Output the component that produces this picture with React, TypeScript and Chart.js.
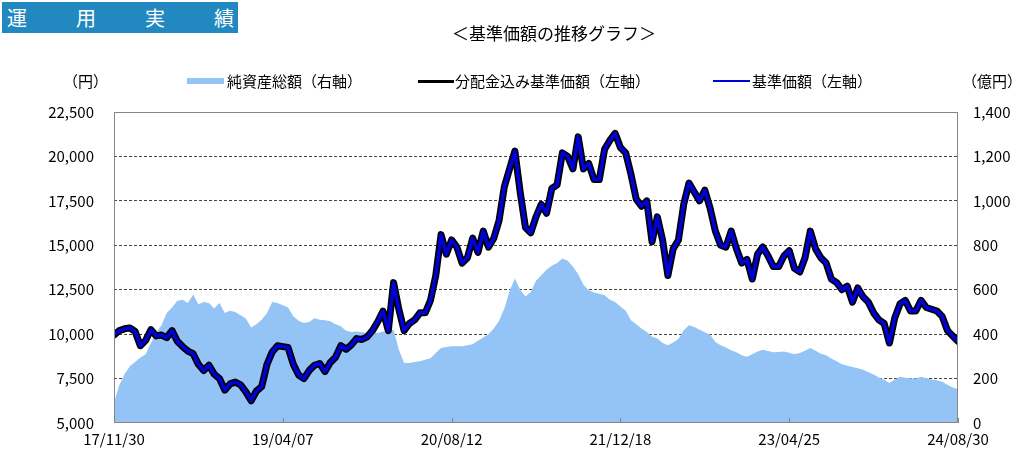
import React, { useEffect, useRef } from "react";
import { Chart, registerables } from "chart.js";

Chart.register(...registerables);

// ---- data ----
const xTickLabels: string[] = ["17/11/30", "19/04/07", "20/08/12", "21/12/18", "23/04/25", "24/08/30"];

// 基準価額（円）
const navValues: number[] = [
  9950, 10200, 10300, 10350, 10150, 9350, 9650, 10250, 9900, 9950,
  9800, 10200, 9600, 9300, 9050, 8900, 8300, 7950, 8250, 7750,
  7500, 6850, 7200, 7300, 7150, 6750, 6250, 6800, 7050, 8300,
  9000, 9350, 9300, 9250, 8300, 7700, 7500, 7950, 8250, 8350,
  7900, 8400, 8700, 9350, 9150, 9400, 9750, 9700, 9850, 10200,
  10700, 11300, 10200, 12900, 11400, 10200, 10600, 10800, 11200, 11200,
  11900, 13300, 15600, 14500, 15300, 14900, 14000, 14300, 15400, 14600,
  15800, 14900, 15400, 16400, 18300, 19300, 20300, 18000, 16000, 15700,
  16600, 17300, 16800, 18200, 18400, 20200, 20000, 19300, 21100, 19300,
  19600, 18700, 18700, 20400, 20900, 21300, 20500, 20200, 19000, 17600,
  17200, 17500, 15200, 16600, 15300, 13300, 14800, 15300, 17300, 18500,
  18000, 17500, 18100, 17100, 15800, 15000, 14900, 15800, 14800, 14000,
  14200, 13100, 14500, 14900, 14400, 13800, 13800, 14400, 14700, 13700,
  13500, 14300, 15800, 14800, 14300, 14000, 13100, 12900, 12500, 12700,
  11800, 12600, 12100, 11800, 11200, 10800, 10600, 9500, 10900, 11700,
  11900, 11300, 11300, 11900, 11500, 11400, 11300, 11000, 10200, 9900,
  9600,
];

// 分配金込み基準価額（円） — overlaps the base price in the picture
const navReinvestedValues: number[] = [
  9950, 10200, 10300, 10350, 10150, 9350, 9650, 10250, 9900, 9950,
  9800, 10200, 9600, 9300, 9050, 8900, 8300, 7950, 8250, 7750,
  7500, 6850, 7200, 7300, 7150, 6750, 6250, 6800, 7050, 8300,
  9000, 9350, 9300, 9250, 8300, 7700, 7500, 7950, 8250, 8350,
  7900, 8400, 8700, 9350, 9150, 9400, 9750, 9700, 9850, 10200,
  10700, 11300, 10200, 12900, 11400, 10200, 10600, 10800, 11200, 11200,
  11900, 13300, 15600, 14500, 15300, 14900, 14000, 14300, 15400, 14600,
  15800, 14900, 15400, 16400, 18300, 19300, 20300, 18000, 16000, 15700,
  16600, 17300, 16800, 18200, 18400, 20200, 20000, 19300, 21100, 19300,
  19600, 18700, 18700, 20400, 20900, 21300, 20500, 20200, 19000, 17600,
  17200, 17500, 15200, 16600, 15300, 13300, 14800, 15300, 17300, 18500,
  18000, 17500, 18100, 17100, 15800, 15000, 14900, 15800, 14800, 14000,
  14200, 13100, 14500, 14900, 14400, 13800, 13800, 14400, 14700, 13700,
  13500, 14300, 15800, 14800, 14300, 14000, 13100, 12900, 12500, 12700,
  11800, 12600, 12100, 11800, 11200, 10800, 10600, 9500, 10900, 11700,
  11900, 11300, 11300, 11900, 11500, 11400, 11300, 11000, 10200, 9900,
  9600,
];

// 純資産総額（億円）
const netAssetValues: number[] = [
  90, 170, 220, 255, 275, 295, 310, 360, 405, 440,
  495, 520, 550, 555, 540, 578, 535, 545, 540, 515,
  540, 495, 505, 500, 485, 470, 430, 445, 465, 495,
  545, 540, 530, 520, 480, 460, 450, 455, 472, 465,
  462, 458, 445, 435, 415, 410, 412, 408, 405, 405,
  405, 412, 410, 420, 330, 270, 270, 275, 278, 285,
  292, 315, 338, 342, 345, 345, 345, 350, 355, 370,
  385, 400, 425, 460, 515, 595, 650, 600, 570, 590,
  640, 665, 690, 708, 720, 740, 730, 705, 670, 622,
  598, 588, 582, 575, 555, 545, 525, 505, 462, 445,
  425, 410, 388, 380, 360, 350, 362, 378, 418, 440,
  432, 420, 408, 398, 365, 350, 340, 328, 318, 305,
  298, 310, 322, 330, 324, 318, 320, 322, 316, 310,
  315, 325, 338, 325, 312, 305, 290, 278, 264, 258,
  252, 246, 240, 228, 218, 205, 195, 180, 195, 208,
  204, 202, 200, 208, 202, 196, 192, 186, 172, 160,
  152,
];

const leftAxisMin = 5000;
const leftAxisMax = 22500;
const leftAxisStep = 2500;
const rightAxisMin = 0;
const rightAxisMax = 1400;
const rightAxisStep = 200;

const FONT = '"Noto Sans CJK JP", "Noto Sans", sans-serif';

const framePlugin = {
  id: "frameAndTicks",
  afterDatasetsDraw(chart: any) {
    const { ctx, chartArea } = chart;
    const { left, top, right, bottom } = chartArea;
    ctx.save();
    ctx.strokeStyle = "#868686";
    ctx.lineWidth = 1;
    ctx.strokeRect(Math.round(left) + 0.5, Math.round(top) + 0.5, Math.round(right - left) - 1, Math.round(bottom - top) - 1);
    const xs = chart.scales.x;
    ctx.beginPath();
    xs.ticks.forEach((t: any) => {
      const px = Math.round(xs.getPixelForValue(t.value)) + 0.5;
      ctx.moveTo(px, bottom);
      ctx.lineTo(px, bottom - 5);
    });
    ctx.stroke();
    ctx.restore();
  },
};

export default function App() {
  const canvasRef = useRef<HTMLCanvasElement | null>(null);

  useEffect(() => {
    const canvas = canvasRef.current;
    if (!canvas) return;
    const indices = navValues.map((_, i) => i);
    const step = (navValues.length - 1) / (xTickLabels.length - 1);
    const chart = new Chart(canvas, {
      type: "line",
      data: {
        labels: indices,
        datasets: [
          {
            label: "基準価額（左軸）",
            data: navValues,
            yAxisID: "y",
            borderColor: "#0000D8",
            borderWidth: 3.5,
            borderJoinStyle: "round",
            borderCapStyle: "round",
            pointRadius: 0,
            fill: false,
            order: 0,
          },
          {
            label: "分配金込み基準価額（左軸）",
            data: navReinvestedValues,
            yAxisID: "y",
            borderColor: "#000000",
            borderWidth: 7,
            borderJoinStyle: "round",
            borderCapStyle: "round",
            pointRadius: 0,
            fill: false,
            order: 1,
          },
          {
            label: "純資産総額（右軸）",
            data: netAssetValues,
            yAxisID: "y1",
            borderColor: "rgba(0,0,0,0)",
            borderWidth: 0,
            backgroundColor: "#93C4F5",
            pointRadius: 0,
            fill: "origin",
            order: 2,
          },
        ],
      },
      options: {
        animation: false,
        responsive: false,
        layout: { padding: { top: 112, left: 0, right: 0, bottom: 0 } },
        plugins: { legend: { display: false }, tooltip: { enabled: false } },
        elements: { line: { tension: 0 }, point: { radius: 0 } },
        scales: {
          x: {
            type: "linear",
            min: 0,
            max: indices.length - 1,
            ticks: {
              stepSize: step,
              autoSkip: false,
              maxRotation: 0,
              color: "#000",
              font: { family: FONT, size: 15 },
              padding: 7,
              callback: (v: any) => xTickLabels[Math.round(Number(v) / step)] ?? "",
            },
            grid: { display: true, drawOnChartArea: false, drawTicks: false },
            border: { display: false },
            afterFit: (s: any) => {
              s.height = 39;
            },
          },
          y: {
            position: "left",
            min: leftAxisMin,
            max: leftAxisMax,
            ticks: {
              stepSize: leftAxisStep,
              color: "#000",
              font: { family: FONT, size: 15 },
              padding: 20,
              callback: (v: any) => Number(v).toLocaleString("en-US"),
            },
            grid: {
              drawTicks: false,
              lineWidth: 1,
              color: (c: any) =>
                c.tick && (c.tick.value === leftAxisMin || c.tick.value === leftAxisMax) ? "rgba(0,0,0,0)" : "#444444",
            },
            border: { display: false, dash: [3, 2] },
            afterFit: (s: any) => {
              s.width = 114;
            },
          },
          y1: {
            position: "right",
            min: rightAxisMin,
            max: rightAxisMax,
            ticks: {
              stepSize: rightAxisStep,
              color: "#000",
              font: { family: FONT, size: 15 },
              padding: 15,
              callback: (v: any) => Number(v).toLocaleString("en-US"),
            },
            grid: { drawOnChartArea: false, drawTicks: false },
            border: { display: false },
            afterFit: (s: any) => {
              s.width = 66;
            },
          },
        },
      },
      plugins: [framePlugin],
    } as any);
    return () => chart.destroy();
  }, []);

  const textStyle: React.CSSProperties = {
    position: "absolute",
    fontFamily: FONT,
    fontSize: 15,
    lineHeight: "20px",
    color: "#000",
    whiteSpace: "nowrap",
  };

  return (
    <div style={{ position: "absolute", left: 0, top: 0, width: 1024, height: 462, background: "#fff", overflow: "hidden" }}>
      <canvas ref={canvasRef} width={1024} height={462} style={{ position: "absolute", left: 0, top: 0, width: 1024, height: 462 }} />
      <div
        style={{
          position: "absolute",
          left: 2,
          top: 2,
          width: 236,
          height: 31,
          background: "#2189BF",
          color: "#fff",
          fontFamily: FONT,
          fontSize: 20,
          lineHeight: "31px",
          display: "flex",
          justifyContent: "space-between",
          padding: "0 4px 0 5px",
          boxSizing: "border-box",
        }}
      >
        <span>運</span>
        <span>用</span>
        <span>実</span>
        <span>績</span>
      </div>
      <div style={{ ...textStyle, fontSize: 17, left: 554, top: 23, transform: "translateX(-50%)" }}>＜基準価額の推移グラフ＞</div>
      <div style={{ ...textStyle, left: 63, top: 71 }}>（円）</div>
      <div style={{ position: "absolute", left: 187, top: 78, width: 37, height: 6, background: "#93C4F5" }} />
      <div style={{ ...textStyle, left: 227, top: 71 }}>純資産総額（右軸）</div>
      <div style={{ position: "absolute", left: 418, top: 80, width: 36, height: 3, background: "#000" }} />
      <div style={{ ...textStyle, left: 455, top: 71 }}>分配金込み基準価額（左軸）</div>
      <div style={{ position: "absolute", left: 713, top: 80, width: 37, height: 2, background: "#0000D8" }} />
      <div style={{ ...textStyle, left: 752, top: 71 }}>基準価額（左軸）</div>
      <div style={{ ...textStyle, left: 962, top: 71 }}>（億円）</div>
    </div>
  );
}
